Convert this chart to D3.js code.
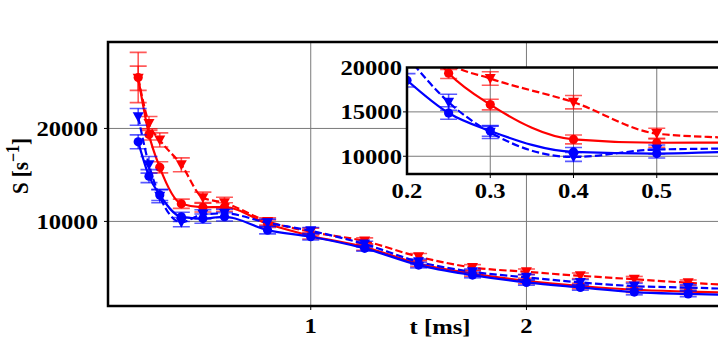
<!DOCTYPE html>
<html>
<head>
<meta charset="utf-8">
<script src="https://cdn.jsdelivr.net/npm/d3@7.9.0/dist/d3.min.js"></script>
<style>
  body { margin: 0; background: #fff; }
  svg { display: block; }
</style>
</head>
<body>
<script>
// ** Data **
const times = [0.2, 0.25, 0.3, 0.4, 0.5, 0.6, 0.8, 1.0, 1.25, 1.5, 1.75, 2.0, 2.25, 2.5, 2.75, 3.0];

const redSolid   = [25480, 19360, 15820, 11900, 11520, 11550, 9750, 8450, 7250, 5450, 4400, 3600, 3050, 2650, 2450, 2300];
const redDashed  = [25400, 20540, 18760, 16090, 12550, 12000, 10000, 8880, 7880, 6200, 5050, 4580, 4150, 3780, 3400, 3100];
const blueSolid  = [18560, 14870, 12850, 10490, 10300, 10500, 9060, 8350, 7100, 5300, 4230, 3440, 2900, 2400, 2200, 2050];
const blueDashed = [21250, 16090, 12700, 9920, 10760, 10860, 9850, 8990, 7560, 5660, 4580, 3980, 3440, 3040, 2880, 2700];

const redSolidErr   = [2700, 600, 600, 500, 500, 450, 400, 350, 350, 300, 300, 300, 300, 300, 300, 300];
const redDashedErr  = [1300, 750, 760, 750, 600, 600, 400, 400, 350, 350, 300, 300, 300, 300, 300, 300];
const blueSolidErr  = [750, 700, 600, 500, 500, 450, 400, 350, 300, 300, 300, 300, 300, 300, 300, 300];
const blueDashedErr = [900, 900, 700, 500, 500, 450, 400, 350, 300, 300, 300, 300, 300, 300, 300, 300];

const mainXTicks = [1, 2];
const mainYTicks = [10000, 20000];
const insetXTicks = [0.2, 0.3, 0.4, 0.5];
const insetYTicks = [10000, 15000, 20000];

const series = [
  { vals: redSolid,   err: redSolidErr,   color: "#ff0000", dashed: false, marker: "circle" },
  { vals: redDashed,  err: redDashedErr,  color: "#ff0000", dashed: true,  marker: "tri" },
  { vals: blueSolid,  err: blueSolidErr,  color: "#0000ff", dashed: false, marker: "circle" },
  { vals: blueDashed, err: blueDashedErr, color: "#0000ff", dashed: true,  marker: "tri" }
];

const W = 718, H = 344;
const FONT = "'Liberation Serif', 'Times New Roman', serif";
const STRETCH = 1.12;

const svg = d3.select("body").append("svg")
    .attr("width", W)
    .attr("height", H);

svg.append("rect").attr("width", W).attr("height", H).attr("fill", "#fff");

// ** Scales **
const x = d3.scaleLinear().domain([0.06, 3.1]).range([108, 763.7]);
const y = d3.scaleLinear().domain([900, 29300]).range([306, 42]);

const xi = d3.scaleLinear().domain([0.2, 0.6]).range([407, 740]);
const yi = d3.scaleLinear().domain([8000, 20000]).range([174, 67.5]);

function label(parent, px, py, txt, anchor, size) {
  const t = parent.append("text")
      .attr("transform", `translate(${px},${py}) scale(${STRETCH},1)`)
      .attr("text-anchor", anchor)
      .style("font-family", FONT)
      .style("font-weight", "bold")
      .style("font-size", (size || 22) + "px")
      .attr("fill", "#000");
  if (txt !== null) t.text(txt);
  return t;
}

function drawPanel(g, xs, ys, clipId, xTicks, yTicks) {
  const [x0, x1] = xs.range();
  const [y1, y0] = ys.range();

  g.append("clipPath").attr("id", clipId)
    .append("rect")
      .attr("x", x0).attr("y", y0)
      .attr("width", x1 - x0).attr("height", y1 - y0);

  g.append("rect")
      .attr("x", x0).attr("y", y0)
      .attr("width", x1 - x0).attr("height", y1 - y0)
      .attr("fill", "#fff");

  // grid
  const grid = g.append("g").attr("clip-path", `url(#${clipId})`);
  grid.selectAll("line.gx").data(xTicks).join("line")
      .attr("x1", d => xs(d)).attr("x2", d => xs(d))
      .attr("y1", y0).attr("y2", y1)
      .attr("stroke", "#7a7a7a").attr("stroke-width", 1);
  grid.selectAll("line.gy").data(yTicks).join("line")
      .attr("x1", x0).attr("x2", x1)
      .attr("y1", d => ys(d)).attr("y2", d => ys(d))
      .attr("stroke", "#7a7a7a").attr("stroke-width", 1);

  const plot = g.append("g").attr("clip-path", `url(#${clipId})`);

  series.forEach(s => {
    const pts = times.map((t, i) => ({ t, v: s.vals[i], e: s.err[i] }));

    plot.append("path")
        .datum(pts)
        .attr("fill", "none")
        .attr("stroke", s.color)
        .attr("stroke-width", 2.2)
        .attr("stroke-dasharray", s.dashed ? "7.4,3.2" : null)
        .attr("d", d3.line().x(d => xs(d.t)).y(d => ys(d.v)).curve(d3.curveMonotoneX));

    const eb = plot.append("g")
        .attr("stroke", s.color)
        .attr("stroke-opacity", 0.65)
        .attr("stroke-width", 1.6);
    eb.selectAll("line.v").data(pts).join("line")
        .attr("x1", d => xs(d.t)).attr("x2", d => xs(d.t))
        .attr("y1", d => ys(d.v - d.e)).attr("y2", d => ys(d.v + d.e));
    eb.selectAll("line.top").data(pts).join("line")
        .attr("x1", d => xs(d.t) - 8.5).attr("x2", d => xs(d.t) + 8.5)
        .attr("y1", d => ys(d.v + d.e)).attr("y2", d => ys(d.v + d.e));
    eb.selectAll("line.bot").data(pts).join("line")
        .attr("x1", d => xs(d.t) - 8.5).attr("x2", d => xs(d.t) + 8.5)
        .attr("y1", d => ys(d.v - d.e)).attr("y2", d => ys(d.v - d.e));

    if (s.marker === "circle") {
      plot.append("g").selectAll("circle").data(pts).join("circle")
          .attr("cx", d => xs(d.t)).attr("cy", d => ys(d.v))
          .attr("r", 4.6)
          .attr("fill", s.color);
    } else {
      plot.append("g").selectAll("path").data(pts).join("path")
          .attr("transform", d => `translate(${xs(d.t)},${ys(d.v)})`)
          .attr("d", "M-5.5,-4.5L5.5,-4.5L0,5.5Z")
          .attr("fill", s.color);
    }
  });

  // frame
  g.append("rect")
      .attr("x", x0).attr("y", y0)
      .attr("width", x1 - x0).attr("height", y1 - y0)
      .attr("fill", "none")
      .attr("stroke", "#000")
      .attr("stroke-width", 2.5);

  // ticks
  g.selectAll("line.tx").data(xTicks).join("line")
      .attr("x1", d => xs(d)).attr("x2", d => xs(d))
      .attr("y1", y1).attr("y2", y1 + 4)
      .attr("stroke", "#000").attr("stroke-width", 1);
  g.selectAll("line.ty").data(yTicks).join("line")
      .attr("x1", x0 - 4).attr("x2", x0)
      .attr("y1", d => ys(d)).attr("y2", d => ys(d))
      .attr("stroke", "#000").attr("stroke-width", 1);
}

// ** Main panel **
const main = svg.append("g");
drawPanel(main, x, y, "clip-main", mainXTicks, mainYTicks);

mainXTicks.forEach(t => label(svg, x(t), 333, d3.format("d")(t), "middle"));
mainYTicks.forEach(v => label(svg, 98, y(v) + 7.5, d3.format("d")(v), "end"));

label(svg, 440, 334, "t [ms]", "middle");

// y label, stretched across its glyph height like the other text
const yl = svg.append("text")
    .attr("transform", "translate(28,166) rotate(-90) scale(1,1.12)")
    .attr("text-anchor", "middle")
    .style("font-family", FONT)
    .style("font-weight", "bold")
    .style("font-size", "21px");
yl.append("tspan").text("S [s");
yl.append("tspan").attr("dy", -8).style("font-size", "16px").text("\u22121");
yl.append("tspan").attr("dy", 8).text("]");

// ** Inset panel **
const inset = svg.append("g");
drawPanel(inset, xi, yi, "clip-inset", insetXTicks.slice(1), insetYTicks.slice(0, 2));
insetXTicks.forEach(t => label(svg, xi(t), 198, d3.format(".1f")(t), "middle"));
insetYTicks.forEach(v => label(svg, 402, yi(v) + 7.5, d3.format("d")(v), "end"));
</script>
</body>
</html>
